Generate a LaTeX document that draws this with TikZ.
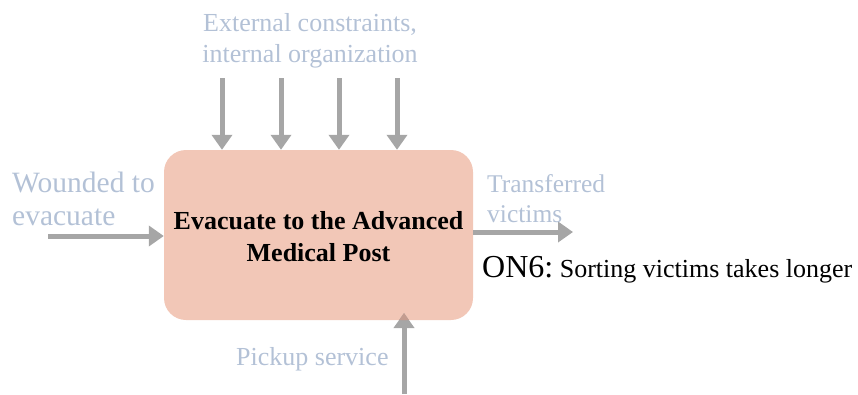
\documentclass[tikz,border=0pt]{standalone}
\usepackage{fontspec}
\setmainfont{Liberation Serif}
\usetikzlibrary{arrows.meta}
\definecolor{boxfill}{HTML}{F2C7B7}
\definecolor{arrgray}{HTML}{A6A6A6}
\definecolor{tipblend}{HTML}{C49C8F}
\definecolor{lbl}{HTML}{B3C1D6}
\tikzset{
  arr/.style={draw=arrgray, line width=5pt, -{Triangle[width=20pt,length=15pt]}},
  lab/.style={text=lbl, font=\fontsize{26}{30}\selectfont, inner sep=0pt},
  proc/.style={fill=boxfill, draw=none, rounded corners=22pt, inner sep=0pt,
    minimum width=309pt, minimum height=170pt, align=center,
    font=\fontsize{26}{32}\selectfont\bfseries},
}
\begin{document}
\begin{tikzpicture}[x=1pt,y=-1pt]
\useasboundingbox (0,0) rectangle (858,394);
% box
\node[proc] (b) at (318.5,235) {};
\node[inner sep=0pt, font=\fontsize{26}{32}\selectfont\bfseries, anchor=base] (l1) at (318.5,229) {Evacuate to the Advanced};
\node[inner sep=0pt, font=\fontsize{26}{32}\selectfont\bfseries, anchor=base] (l2) at (318.5,261) {Medical Post};
% top arrows
\coordinate (t1) at (222,78);
\coordinate (t2) at (281,78);
\coordinate (t3) at (339,78);
\coordinate (t4) at (397,78);
\foreach \t in {t1,t2,t3,t4} \draw[arr] (\t) -- (\t |- b.north);
% left arrow
\coordinate (lin) at (48,236);
\draw[arr] (lin) -- (lin -| b.west);
% right arrow
\coordinate (rout) at (573,232);
\draw[arr] (rout -| b.east) -- (rout);
% bottom arrow
\coordinate (bin) at (404,394);
\coordinate (btip) at (404,313);
\draw[arr] (bin) -- (btip);
\begin{scope}
\clip[rounded corners=22pt] (b.south west) rectangle (b.north east);
\draw[arr, draw=tipblend] (bin) -- (btip);
\end{scope}
% labels
\node[lab, anchor=base] (c1) at (310,31) {External constraints,};
\node[lab, anchor=base] (c2) at (310,62) {internal organization};
\node[lab, anchor=base west, font=\fontsize{29.5}{33}\selectfont] (w1) at (12,192) {Wounded to};
\node[lab, anchor=base west, font=\fontsize{29.5}{33}\selectfont] (w2) at (12,225) {evacuate};
\node[lab, anchor=base west, font=\fontsize{25.5}{30}\selectfont] (o1) at (487,192) {Transferred};
\node[lab, anchor=base west, font=\fontsize{25.5}{30}\selectfont] (o2) at (487,222) {victims};
\node[lab, anchor=base west] (m1) at (236,365) {Pickup service};
\node[inner sep=0pt, anchor=base west] (on) at (482,277) {\fontsize{32}{36}\selectfont ON6:\fontsize{26}{30}\selectfont\ Sorting victims takes longer};
\end{tikzpicture}
\end{document}
